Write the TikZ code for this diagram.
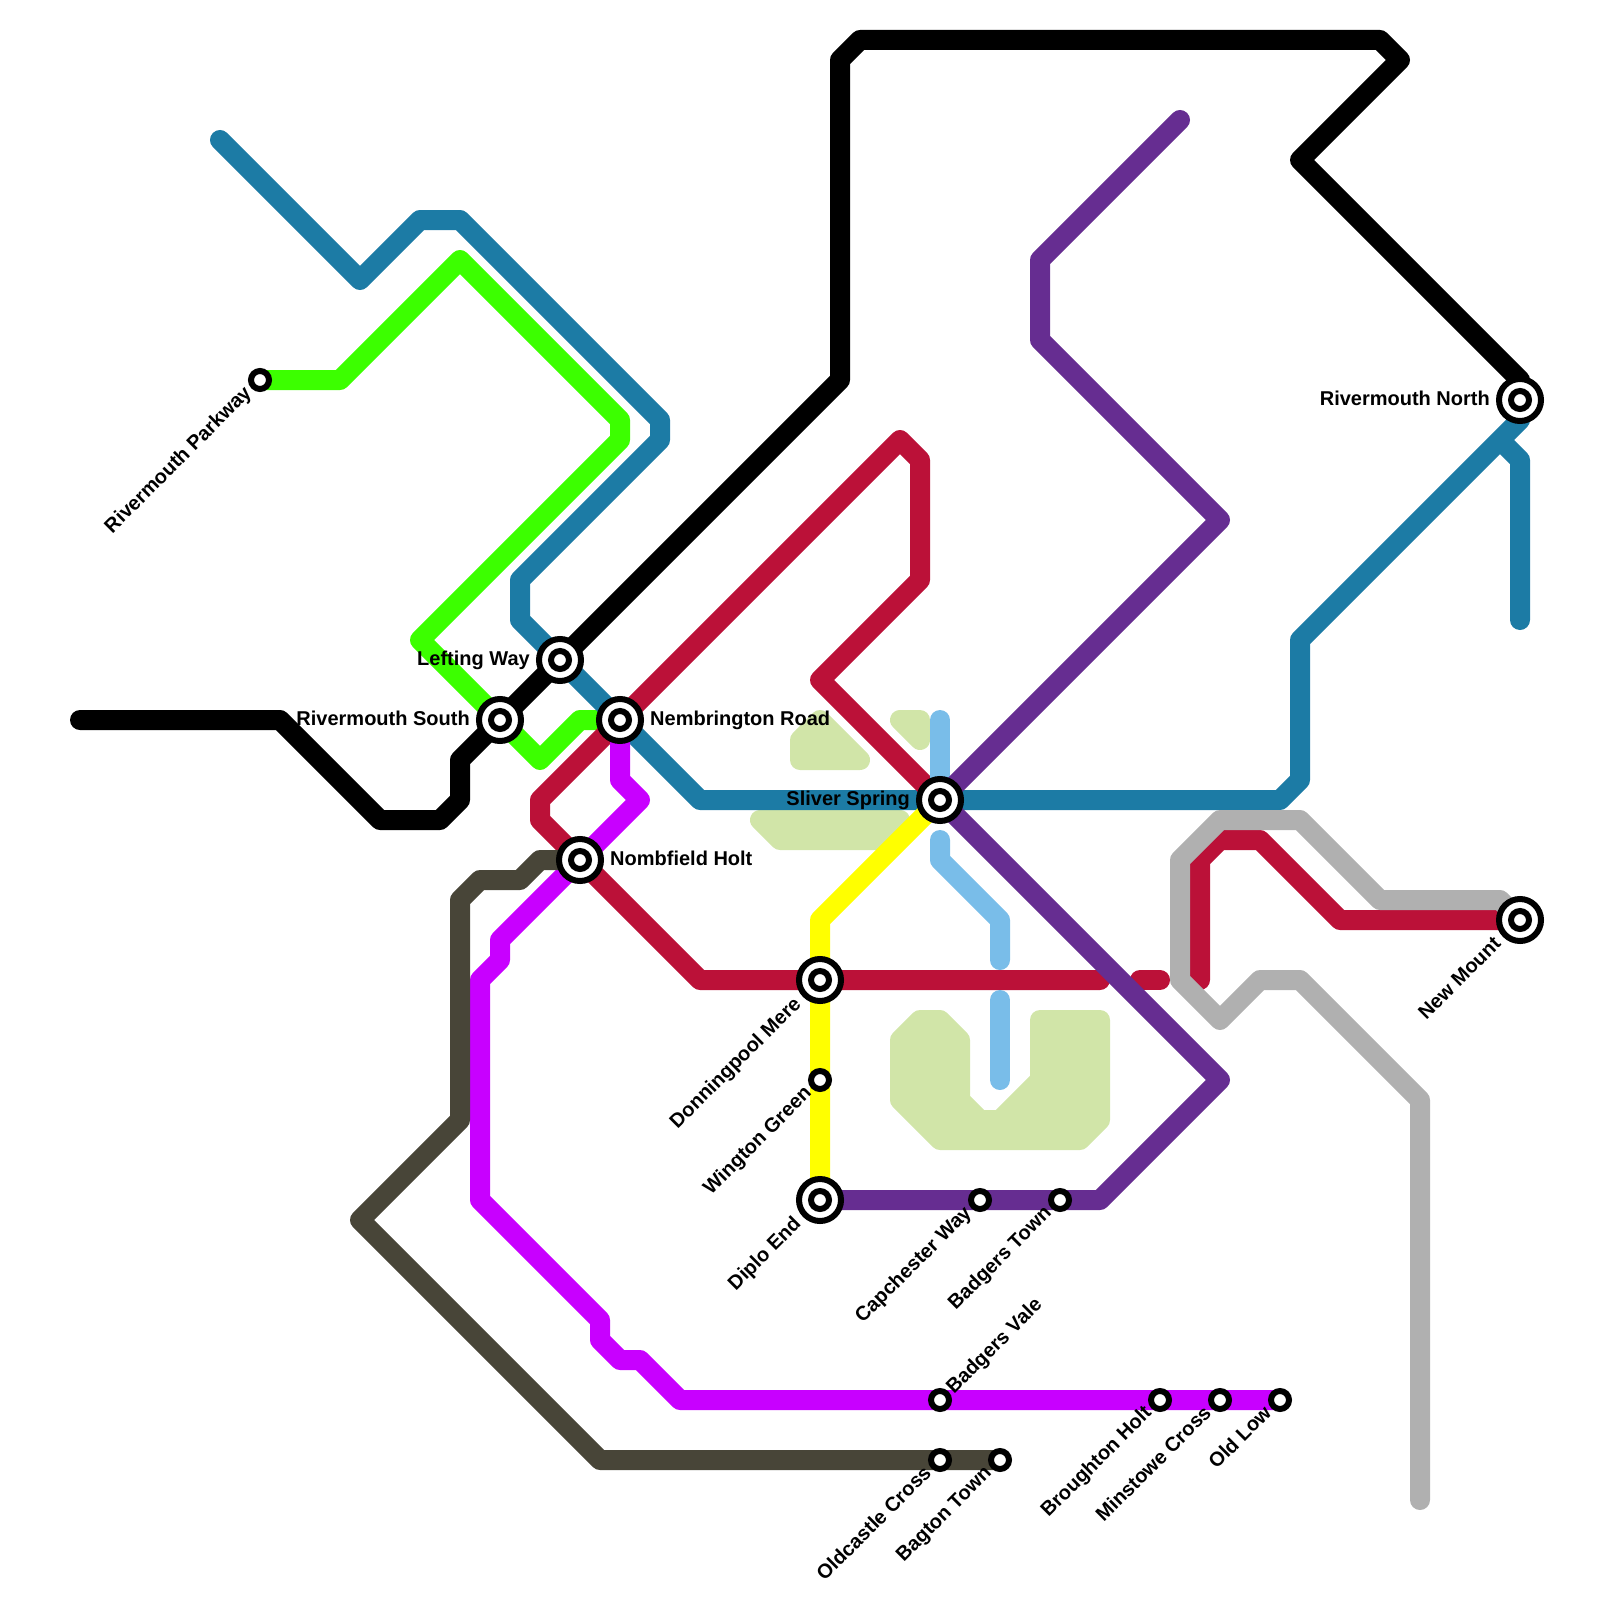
\documentclass[tikz,border=0pt]{standalone}
\usepackage{fontspec}
\setmainfont{Liberation Sans}
\usepackage{xcolor}
\definecolor{riverteal}{HTML}{1C7BA5}
\definecolor{crimsonline}{HTML}{BB1138}
\definecolor{limeline}{HTML}{3CFF00}
\definecolor{magentaline}{HTML}{C800FF}
\definecolor{purpleline}{HTML}{662D91}
\definecolor{oliveline}{HTML}{484538}
\definecolor{skyline}{HTML}{79BDE9}
\definecolor{greyline}{HTML}{B0B0B0}
\definecolor{yellowline}{HTML}{FFFF00}
\definecolor{parkgreen}{HTML}{D1E5A8}
\tikzset{
  route/.style={line width=20pt, line cap=round, line join=round},
  park/.style={draw=parkgreen, fill=parkgreen, line width=20pt, line join=round},
  bigring/.style={circle, draw=black, fill=white, line width=6pt, minimum size=42pt, inner sep=0pt, outer sep=0pt},
  smallring/.style={circle, draw=black, fill=white, line width=6pt, minimum size=18pt, inner sep=0pt, outer sep=0pt},
  stoplabel/.style={font=\fontsize{20}{24}\selectfont\bfseries, inner sep=0pt, text=black},
  toleft/.style={stoplabel, anchor=base east, xshift=-30pt, yshift=-5.5pt},
  toright/.style={stoplabel, anchor=base west, xshift=30pt, yshift=-5.5pt},
  downsmall/.style={stoplabel, anchor=base east, xshift=-7.5pt, yshift=-14pt, rotate=45},
  downbig/.style={stoplabel, anchor=base east, xshift=-18pt, yshift=-25pt, rotate=45},
  upsmall/.style={stoplabel, anchor=base west, xshift=14pt, yshift=5pt, rotate=45},
}
\begin{document}
\begin{tikzpicture}[x=1pt, y=-1pt]
  \useasboundingbox (0,0) rectangle (1600,1600);

  % stations
  \coordinate (parkway) at (260,380);
  \coordinate (lefting) at (560,660);
  \coordinate (southriver) at (500,720);
  \coordinate (nembrington) at (620,720);
  \coordinate (nombfield) at (580,860);
  \coordinate (sliver) at (940,800);
  \coordinate (donningpool) at (820,980);
  \coordinate (wington) at (820,1080);
  \coordinate (diplo) at (820,1200);
  \coordinate (capchester) at (980,1200);
  \coordinate (badgerstown) at (1060,1200);
  \coordinate (badgersvale) at (940,1400);
  \coordinate (oldcastle) at (940,1460);
  \coordinate (bagton) at (1000,1460);
  \coordinate (broughton) at (1160,1400);
  \coordinate (minstowe) at (1220,1400);
  \coordinate (oldlow) at (1280,1400);
  \coordinate (northriver) at (1520,400);
  \coordinate (newmount) at (1520,920);

  % parks
  \draw[park] (900,1040) -- (920,1020) -- (940,1020) -- (960,1040) -- (960,1100) -- (980,1120) -- (1000,1120)
    -- (1040,1080) -- (1040,1020) -- (1100,1020) -- (1100,1120) -- (1080,1140) -- (940,1140) -- (900,1100) -- cycle;
  \draw[park] (800,740) -- (820,720) -- (860,760) -- (800,760) -- cycle;
  \draw[park] (900,720) -- (920,720) -- (920,740) -- cycle;
  \draw[park] (760,820) -- (900,820) -- (880,840) -- (780,840) -- cycle;

  % lines
  \draw[route, limeline] (parkway) -- (340,380) -- (460,260) -- (620,420) -- (620,440) -- (420,640)
    -- (southriver) -- (540,760) -- (580,720) -- (nembrington);
  \draw[route, black] (80,720) -- (280,720) -- (380,820) -- (440,820) -- (460,800) -- (460,760) -- (southriver)
    -- (lefting) -- (840,380) -- (840,60) -- (860,40) -- (1380,40) -- (1400,60) -- (1300,160) -- (1520,380) -- (northriver);
  \draw[route, riverteal] (220,140) -- (360,280) -- (420,220) -- (460,220) -- (660,420) -- (660,440) -- (520,580) -- (520,620)
    -- (lefting) -- (nembrington) -- (700,800) -- (sliver) -- (1280,800) -- (1300,780) -- (1300,640) -- (1520,420)
    -- (1500,440) -- (1520,460) -- (1520,620);
  \draw[route, crimsonline] (sliver) -- (820,680) -- (920,580) -- (920,460) -- (900,440) -- (nembrington) -- (540,800)
    -- (540,820) -- (nombfield) -- (700,980) -- (donningpool) -- (1100,980);
  \draw[route, crimsonline] (1140,980) -- (1160,980);
  \draw[route, crimsonline] (1200,980) -- (1200,860) -- (1220,840) -- (1260,840) -- (1340,920) -- (newmount);
  \draw[route, greyline] (1420,1500) -- (1420,1100) -- (1300,980) -- (1260,980) -- (1220,1020) -- (1180,980) -- (1180,860)
    -- (1220,820) -- (1300,820) -- (1380,900) -- (1500,900) -- (newmount);
  \draw[route, magentaline] (nembrington) -- (620,780) -- (640,800) -- (nombfield) -- (500,940) -- (500,960) -- (480,980)
    -- (480,1200) -- (600,1320) -- (600,1340) -- (620,1360) -- (640,1360) -- (680,1400) -- (badgersvale) -- (broughton)
    -- (minstowe) -- (oldlow);
  \draw[route, oliveline] (nombfield) -- (540,860) -- (520,880) -- (480,880) -- (460,900) -- (460,1120) -- (360,1220)
    -- (600,1460) -- (oldcastle) -- (bagton);
  \draw[route, skyline] (940,720) -- (sliver);
  \draw[route, skyline] (940,840) -- (940,860) -- (1000,920) -- (1000,960);
  \draw[route, skyline] (1000,1000) -- (1000,1080);
  \draw[route, yellowline] (sliver) -- (820,920) -- (donningpool) -- (wington) -- (diplo);
  \draw[route, purpleline] (1180,120) -- (1040,260) -- (1040,340) -- (1220,520) -- (sliver) -- (1220,1080) -- (1100,1200)
    -- (badgerstown) -- (capchester) -- (diplo);

  % stops on top of the lines
  \foreach \stop in {lefting,southriver,nembrington,nombfield,sliver,donningpool,diplo,northriver,newmount} {
    \node[bigring] (\stop Ring) at (\stop) {};
  }
  \foreach \stop in {parkway,lefting,southriver,nembrington,nombfield,sliver,donningpool,wington,diplo,capchester,
      badgerstown,badgersvale,oldcastle,bagton,broughton,minstowe,oldlow,northriver,newmount} {
    \node[smallring] (\stop Dot) at (\stop) {};
  }

  % labels
  \node[downsmall] (parkwayLabel) at (parkway) {Rivermouth Parkway};
  \node[toleft] (leftingLabel) at (lefting) {Lefting Way};
  \node[toleft] (southriverLabel) at (southriver) {Rivermouth South};
  \node[toright] (nembringtonLabel) at (nembrington) {Nembrington Road};
  \node[toright] (nombfieldLabel) at (nombfield) {Nombfield Holt};
  \node[toleft] (sliverLabel) at (sliver) {Sliver Spring};
  \node[downbig] (donningpoolLabel) at (donningpool) {Donningpool Mere};
  \node[downsmall] (wingtonLabel) at (wington) {Wington Green};
  \node[downbig] (diploLabel) at (diplo) {Diplo End};
  \node[downsmall] (capchesterLabel) at (capchester) {Capchester Way};
  \node[downsmall] (badgerstownLabel) at (badgerstown) {Badgers Town};
  \node[upsmall] (badgersvaleLabel) at (badgersvale) {Badgers Vale};
  \node[downsmall] (oldcastleLabel) at (oldcastle) {Oldcastle Cross};
  \node[downsmall] (bagtonLabel) at (bagton) {Bagton Town};
  \node[downsmall] (broughtonLabel) at (broughton) {Broughton Holt};
  \node[downsmall] (minstoweLabel) at (minstowe) {Minstowe Cross};
  \node[downsmall] (oldlowLabel) at (oldlow) {Old Low};
  \node[toleft] (northriverLabel) at (northriver) {Rivermouth North};
  \node[downbig] (newmountLabel) at (newmount) {New Mount};
\end{tikzpicture}
\end{document}
